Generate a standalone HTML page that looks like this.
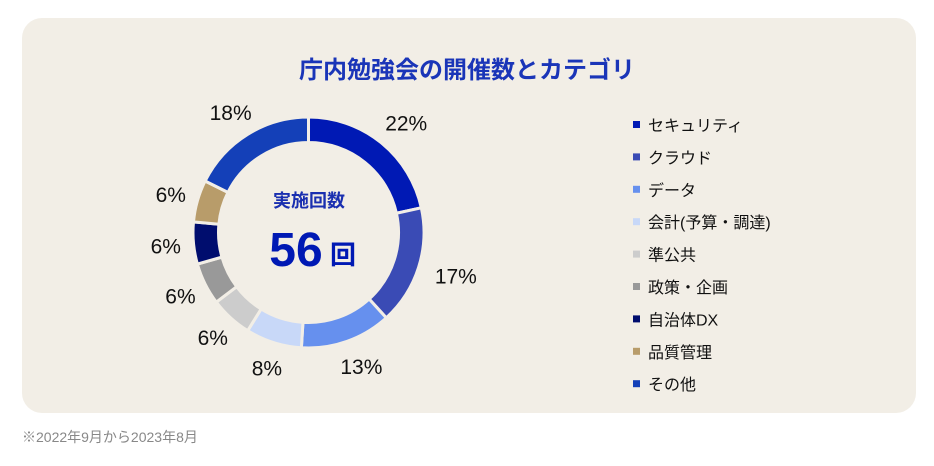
<!DOCTYPE html>
<html><head><meta charset="utf-8"><style>
body{margin:0;background:#fff;width:934px;height:466px;overflow:hidden;font-family:"Liberation Sans","Noto Sans CJK JP",sans-serif;}
#card{position:absolute;left:22px;top:18px;width:894px;height:395px;background:#f2eee6;border-radius:20px;}
#title{position:absolute;left:0;top:50px;width:934px;text-align:center;font-size:24px;font-weight:bold;color:#1a35b8;}
#foot{position:absolute;left:22px;top:427px;font-size:14px;color:#888;}
svg{position:absolute;left:0;top:0;}
</style></head><body>
<div id="card"></div>
<div id="title">庁内勉強会の開催数とカテゴリ</div>
<svg id="chart" width="934" height="466">
<text x="309" y="207" text-anchor="middle" font-size="18" font-weight="bold" fill="#1a2fb0">実施回数</text>
<text x="296" y="266" text-anchor="middle" font-size="48" font-weight="bold" fill="#0019b4">56</text>
<text x="343" y="264" text-anchor="middle" font-size="26" font-weight="bold" fill="#0019b4">回</text>
</svg>
<div id="foot">※2022年9月から2023年8月</div>
<script>
const categories=["セキュリティ","クラウド","データ","会計(予算・調達)","準公共","政策・企画","自治体DX","品質管理","その他"];
const values=[22,17,13,8,6,6,6,6,18];
const labels=["22%","17%","13%","8%","6%","6%","6%","6%","18%"];
const colors=["#0019b4","#3a4bb5","#6690ee","#c8d8f8","#cccccc","#999999","#000d6e","#b89c6a","#1440b8"];
const svg=document.getElementById('chart');
const NS='http://www.w3.org/2000/svg';
const cx=308.5,cy=232.5,ro=115.5,ri=90,lr=ro+18;
const total=values.reduce((a,b)=>a+b,0);
function pt(r,a){return [cx+r*Math.sin(a),cy-r*Math.cos(a)];}
let acc=0;
values.forEach((v,i)=>{
  const a0=acc/total*2*Math.PI,a1=(acc+v)/total*2*Math.PI;acc+=v;
  const large=(a1-a0)>Math.PI?1:0;
  const p1=pt(ro,a0),p2=pt(ro,a1),p3=pt(ri,a1),p4=pt(ri,a0);
  const path=document.createElementNS(NS,'path');
  path.setAttribute('d',`M${p1}A${ro},${ro} 0 ${large} 1 ${p2}L${p3}A${ri},${ri} 0 ${large} 0 ${p4}Z`);
  path.setAttribute('fill',colors[i]);path.setAttribute('stroke','#f2eee6');path.setAttribute('stroke-width','3');
  
  
  svg.appendChild(path);
  const am=(a0+a1)/2;const lp=pt(lr,am);
  const w=labels[i].length*12.5;
  const lx=lp[0]-w*(1-Math.sin(am))/2;
  const ly=lp[1]-Math.cos(am)*8+8;
  const t=document.createElementNS(NS,'text');
  t.setAttribute('x',lx);t.setAttribute('y',ly);t.setAttribute('text-anchor','start');
  t.setAttribute('font-size','21');t.setAttribute('fill','#111');t.textContent=labels[i];
  
  
  svg.appendChild(t);
  const y=125+i*32.4;
  const r=document.createElementNS(NS,'rect');
  r.setAttribute('x',633);r.setAttribute('y',y-4);r.setAttribute('width',7);r.setAttribute('height',7);r.setAttribute('fill',colors[i]);
  
  
  svg.appendChild(r);
  const lt=document.createElementNS(NS,'text');
  lt.setAttribute('x',648);lt.setAttribute('y',y+6);lt.setAttribute('font-size','16');lt.setAttribute('fill','#111');lt.textContent=categories[i];
  
  
  svg.appendChild(lt);
});
</script>
</body></html>
